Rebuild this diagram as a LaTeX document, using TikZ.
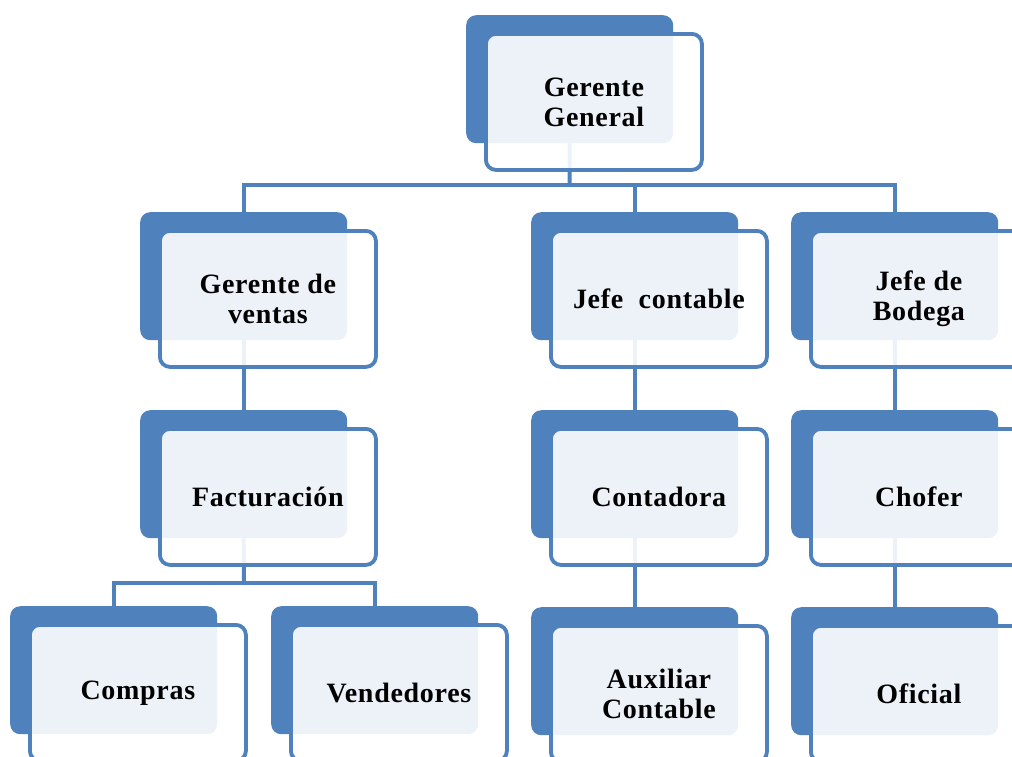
\documentclass[tikz,border=0pt]{standalone}
\usepackage{fontspec}
\setmainfont[LetterSpace=2.5]{Liberation Serif}
\usetikzlibrary{backgrounds}
\definecolor{ob}{HTML}{4F81BD}
\tikzset{
  backbox/.style={fill=ob, rounded corners=10pt, minimum width=207pt, minimum height=128pt, anchor=north west, inner sep=0pt},
  frontbox/.style={fill=white, fill opacity=0.9, text opacity=1, draw=ob, line width=3.8pt, rounded corners=10pt, minimum width=216pt, minimum height=136pt, anchor=north west, inner sep=0pt, font=\fontsize{28}{30}\selectfont\bfseries, align=center, text=black},
  link/.style={draw=ob, line width=4pt}
}
\newcommand\orgunit[4]{%
  \node[backbox] (#1-b) at (#2,#3) {};
  \node[frontbox] (#1) at (#2+18,#3+17) {#4};
}
\begin{document}
\begin{tikzpicture}[x=1pt,y=-1pt]
\useasboundingbox (0,0) rectangle (1012,756);
\clip (0,0) rectangle (1012,756);
\orgunit{gg}{466}{15}{Gerente\\General}
\orgunit{gdv}{140}{212}{Gerente de\\ventas}
\orgunit{jc}{531}{212}{Jefe\ \ contable}
\orgunit{jdb}{791}{212}{Jefe de\\Bodega}
\orgunit{fac}{140}{410}{Facturación}
\orgunit{cont}{531}{410}{Contadora}
\orgunit{chof}{791}{410}{Chofer}
\orgunit{comp}{10}{606}{Compras}
\orgunit{vend}{271}{606}{Vendedores}
\orgunit{aux}{531}{607}{Auxiliar\\Contable}
\orgunit{ofi}{791}{607}{Oficial}
\coordinate (bar1) at (569.5,185);
\coordinate (bar2) at (244,583);
\begin{pgfonlayer}{background}
\fill[white] (0,0) rectangle (1012,756);
\draw[link] (gg-b.south) -- (bar1);
\draw[link] (gdv-b.north) |- (bar1) -| (jdb-b.north);
\draw[link] (bar1 -| jc-b.north) -- (jc-b.north);
\draw[link] (gdv-b.south) -- (fac-b.north);
\draw[link] (jc-b.south) -- (cont-b.north);
\draw[link] (jdb-b.south) -- (chof-b.north);
\draw[link] (fac-b.south) -- (bar2);
\draw[link] (comp-b.north) |- (bar2) -| (vend-b.north);
\draw[link] (cont-b.south) -- (aux-b.north);
\draw[link] (chof-b.south) -- (ofi-b.north);
\end{pgfonlayer}
\end{tikzpicture}
\end{document}
